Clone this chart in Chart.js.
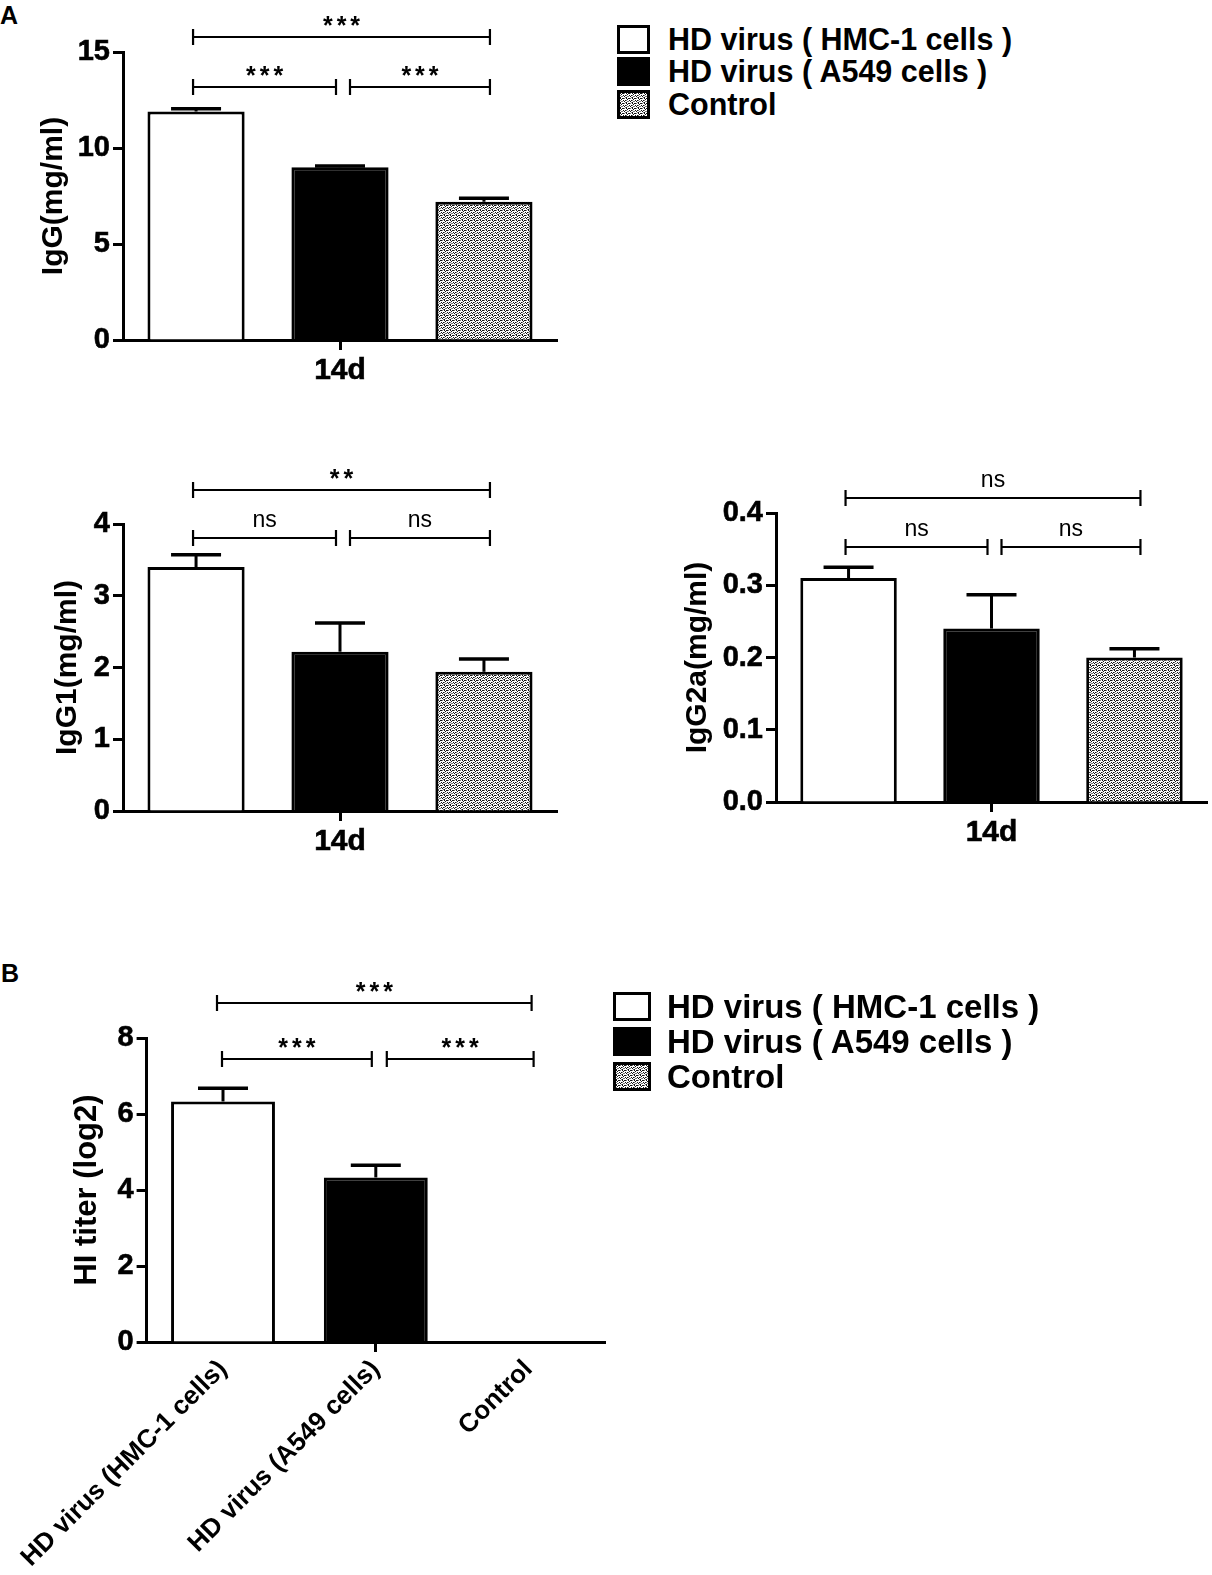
<!DOCTYPE html>
<html>
<head>
<meta charset="utf-8">
<script src="https://cdn.jsdelivr.net/npm/chart.js@4.4.1/dist/chart.umd.min.js"></script>
<style>
  body { margin: 0; background: #fff; width: 1212px; height: 1575px; position: relative; overflow: hidden;
         font-family: 'Liberation Sans', Arial, sans-serif; color: #000; }
  .box { position: absolute; }
  .tag { position: absolute; font-weight: bold; font-size: 25px; line-height: 25px; }
  .legend { position: absolute; font-weight: bold; }
  .legend .row { display: flex; align-items: center; white-space: nowrap; }
  .legend .sw { box-sizing: border-box; border: 3px solid #000; flex: none; }
</style>
</head>
<body>
<div class="tag" style="left:0;top:3px">A</div>
<div class="tag" style="left:1px;top:961px">B</div>

<div class="box" style="left:0;top:0;width:600px;height:400px"><canvas id="iggChart"></canvas></div>
<div class="box" style="left:0;top:440px;width:600px;height:440px"><canvas id="igg1Chart"></canvas></div>
<div class="box" style="left:640px;top:440px;width:572px;height:440px"><canvas id="igg2aChart"></canvas></div>
<div class="box" style="left:0;top:950px;width:620px;height:625px"><canvas id="hiChart"></canvas></div>

<div class="legend" id="legendA" style="left:617px;top:23px;font-size:30.5px"></div>
<div class="legend" id="legendB" style="left:613px;top:989px;font-size:33px"></div>

<script>
// groups and values
const groups = ['HD virus ( HMC-1 cells )', 'HD virus ( A549 cells )', 'Control'];
const hiLabels = ['HD virus (HMC-1 cells)', 'HD virus (A549 cells)', 'Control'];
const dayLabels = ['14d'];

const iggMean = [11.9, 9.0, 7.2];
const iggErr = [0.15, 0.06, 0.18];
const iggTicks = [0, 5, 10, 15];
const iggSig = ['***', '***', '***'];     // 1 vs 2, 2 vs 3, 1 vs 3

const igg1Mean = [3.4, 2.22, 1.94];
const igg1Err = [0.17, 0.4, 0.18];
const igg1Ticks = [0, 1, 2, 3, 4];
const igg1Sig = ['ns', 'ns', '**'];

const igg2aMean = [0.31, 0.24, 0.2];
const igg2aErr = [0.015, 0.047, 0.012];
const igg2aTicks = [0, 0.1, 0.2, 0.3, 0.4];
const igg2aSig = ['ns', 'ns', 'ns'];

const hiMean = [6.33, 4.33, 0];
const hiErr = [0.35, 0.32, 0];
const hiTicks = [0, 2, 4, 6, 8];
const hiSig = ['***', '***', '***'];

Chart.defaults.font.family = "'Liberation Sans', Arial, sans-serif";
Chart.defaults.color = '#000';

// dotted fill used for the Control bars
function dotTile() {
    const c = document.createElement('canvas');
    c.width = 6; c.height = 5;
    const g = c.getContext('2d');
    g.fillStyle = '#fff';
    g.fillRect(0, 0, 6, 5);
    g.fillStyle = '#111';
    [[0, 0], [2, 0], [1, 1], [3, 2], [5, 2], [4, 3], [0, 4], [3, 0]].forEach(([x, y]) => g.fillRect(x, y, 1, 1));
    g.fillStyle = '#777';
    [[4, 0], [1, 3], [0, 2], [5, 4], [2, 3]].forEach(([x, y]) => g.fillRect(x, y, 1, 1));
    return c;
}
const tile = dotTile();

// upper error bars (GraphPad style)
const errorBars = {
    id: 'errorBars',
    afterDatasetsDraw(chart) {
        const ctx = chart.ctx, y = chart.scales.y;
        chart.data.datasets.forEach((ds, d) => {
            if (!ds.errors) return;
            chart.getDatasetMeta(d).data.forEach((bar, i) => {
                const e = ds.errors[i];
                if (!e) return;
                const top = y.getPixelForValue(ds.data[i] + e);
                ctx.save();
                ctx.strokeStyle = '#000';
                ctx.lineWidth = 3;
                ctx.beginPath();
                ctx.moveTo(bar.x, bar.y);
                ctx.lineTo(bar.x, top);
                ctx.stroke();
                ctx.lineWidth = 3.5;
                ctx.beginPath();
                ctx.moveTo(bar.x - 25, top);
                ctx.lineTo(bar.x + 25, top);
                ctx.stroke();
                ctx.restore();
            });
        });
    }
};

// significance brackets above the bars
const sigBrackets = {
    id: 'sigBrackets',
    afterDraw(chart, args, opts) {
        if (!opts.items) return;
        const ctx = chart.ctx;
        const cx = i => opts.byIndex ? chart.getDatasetMeta(0).data[i].x : chart.getDatasetMeta(i).data[0].x;
        ctx.save();
        ctx.strokeStyle = '#000';
        ctx.fillStyle = '#000';
        ctx.lineWidth = 2.2;
        opts.items.forEach(it => {
            const x1 = cx(it.a) + it.l, x2 = cx(it.b) + it.r, y = it.y;
            ctx.beginPath();
            ctx.moveTo(x1, y); ctx.lineTo(x2, y);
            ctx.moveTo(x1, y - 8); ctx.lineTo(x1, y + 8);
            ctx.moveTo(x2, y - 8); ctx.lineTo(x2, y + 8);
            ctx.stroke();
            const stars = it.text.indexOf('*') >= 0;
            const mid = (x1 + x2) / 2, yc = y - 17;
            ctx.textAlign = 'center';
            ctx.textBaseline = 'alphabetic';
            if (stars) {
                ctx.font = "bold 25px 'Liberation Sans', Arial, sans-serif";
                ctx.letterSpacing = '4px';
                ctx.fillText(it.text, mid + 2, yc + 14);
            } else {
                ctx.font = "23px 'Liberation Sans', Arial, sans-serif";
                ctx.letterSpacing = '0px';
                ctx.fillText(it.text, mid, yc + 6);
            }
        });
        ctx.restore();
    }
};

function bracketItems(sig, yLow, yTop) {
    return [
        { a: 0, b: 1, y: yLow, l: -3, r: -4, text: sig[0] },
        { a: 1, b: 2, y: yLow, l: 10, r: 6, text: sig[1] },
        { a: 0, b: 2, y: yTop, l: -3, r: 6, text: sig[2] }
    ];
}

function yScale(ticks, title, lay, fmt) {
    return {
        min: ticks[0],
        max: ticks[ticks.length - 1],
        afterBuildTicks: s => { s.ticks = ticks.map(v => ({ value: v })); },
        afterFit: s => { s.width = lay.yw; },
        ticks: { color: '#000', padding: 3, font: { size: 29, weight: 'bold' }, callback: fmt || (v => v),
                 textStrokeColor: '#000', textStrokeWidth: 0.6 },
        grid: { drawOnChartArea: false, color: '#000', tickLength: 10, tickWidth: 3 },
        border: { color: '#000', width: 3 },
        title: { display: true, text: title, color: '#000', font: { size: lay.tf || 30, weight: 'bold' },
                 padding: { top: lay.tp, bottom: 0 } }
    };
}

// one "14d" group with three bars
function createGroupChart(id, means, errs, ticks, title, sig, lay, fmt) {
    const ctx = document.getElementById(id).getContext('2d');
    const fills = ['#fff', '#000', ctx.createPattern(tile, 'repeat')];
    return new Chart(ctx, {
        type: 'bar',
        data: {
            labels: dayLabels,
            datasets: groups.map((g, i) => ({
                label: g,
                data: [means[i]],
                errors: [errs[i]],
                backgroundColor: fills[i],
                borderColor: '#000',
                borderWidth: 3,
                categoryPercentage: 0.995,
                barPercentage: 0.675
            }))
        },
        options: {
            responsive: true,
            maintainAspectRatio: false,
            animation: false,
            layout: { padding: { top: lay.pt, right: lay.pr, left: 0, bottom: 0 } },
            plugins: {
                legend: { display: false },
                tooltip: { enabled: false },
                sigBrackets: { items: bracketItems(sig, lay.bl, lay.bt) }
            },
            scales: {
                x: {
                    offset: true,
                    afterFit: s => { s.height = lay.xh; },
                    grid: { offset: false, drawOnChartArea: false, color: '#000', tickLength: 10, tickWidth: 3 },
                    border: { color: '#000', width: 3 },
                    ticks: { color: '#000', padding: 3, font: { size: 30, weight: 'bold' },
                             textStrokeColor: '#000', textStrokeWidth: 0.6 }
                },
                y: yScale(ticks, title, lay, fmt)
            }
        },
        plugins: [errorBars, sigBrackets]
    });
}

function createHIChart() {
    const ctx = document.getElementById('hiChart').getContext('2d');
    const lay = { yw: 143, tp: 65, tf: 31 };
    return new Chart(ctx, {
        type: 'bar',
        data: {
            labels: hiLabels,
            datasets: [{
                label: 'HI titer',
                data: hiMean,
                errors: hiErr,
                backgroundColor: ['#fff', '#000', ctx.createPattern(tile, 'repeat')],
                borderColor: '#000',
                borderWidth: 3,
                categoryPercentage: 1,
                barPercentage: 0.68
            }]
        },
        options: {
            responsive: true,
            maintainAspectRatio: false,
            animation: false,
            layout: { padding: { top: 88, right: 15, left: 0, bottom: 0 } },
            plugins: {
                legend: { display: false },
                tooltip: { enabled: false },
                sigBrackets: {
                    byIndex: true,
                    items: [
                        { a: 0, b: 1, y: 109, l: -1, r: -4, text: hiSig[0] },
                        { a: 1, b: 2, y: 109, l: 11, r: 5, text: hiSig[1] },
                        { a: 0, b: 2, y: 53, l: -6, r: 3, text: hiSig[2] }
                    ]
                }
            },
            scales: {
                x: {
                    offset: true,
                    afterFit: s => { s.height = 233; },
                    grid: {
                        offset: false, drawOnChartArea: false, tickLength: 10, tickWidth: 3,
                        color: c => c.index === 1 ? '#000' : 'rgba(0,0,0,0)'
                    },
                    border: { color: '#000', width: 3 },
                    ticks: { color: '#000', padding: 2, minRotation: 45, maxRotation: 45,
                             font: { size: 26, weight: 'bold' } }
                },
                y: yScale(hiTicks, 'HI titer (log2)', lay)
            }
        },
        plugins: [errorBars, sigBrackets]
    });
}

function buildLegend(id, sw, rowH) {
    const el = document.getElementById(id);
    const styles = [
        'background:#fff',
        'background:#000',
        'background-color:#fff;background-image:url(' + tile.toDataURL() + ');background-size:6px 5px;image-rendering:pixelated'
    ];
    groups.forEach((g, i) => {
        const row = document.createElement('div');
        row.className = 'row';
        row.style.height = rowH + 'px';
        row.innerHTML = '<div class="sw" style="width:' + sw[0] + 'px;height:' + sw[1] + 'px;margin-right:' + sw[2] +
            'px;' + styles[i] + '"></div><span>' + g + '</span>';
        el.appendChild(row);
    });
}

function initializeCharts() {
    createGroupChart('iggChart', iggMean, iggErr, iggTicks, 'IgG(mg/ml)', iggSig,
        { pt: 52, pr: 43, xh: 60, yw: 123, tp: 36, bl: 87, bt: 37 });
    createGroupChart('igg1Chart', igg1Mean, igg1Err, igg1Ticks, 'IgG1(mg/ml)', igg1Sig,
        { pt: 84, pr: 43, xh: 69, yw: 123, tp: 50, bl: 98, bt: 50 });
    createGroupChart('igg2aChart', igg2aMean, igg2aErr, igg2aTicks, 'IgG2a(mg/ml)', igg2aSig,
        { pt: 73, pr: 5, xh: 78, yw: 136, tp: 40, bl: 107, bt: 58 }, v => v.toFixed(1));
    createHIChart();
    buildLegend('legendA', [33, 29, 18], 32.5);
    buildLegend('legendB', [38, 29, 16], 35);
}

initializeCharts();
</script>
</body>
</html>
